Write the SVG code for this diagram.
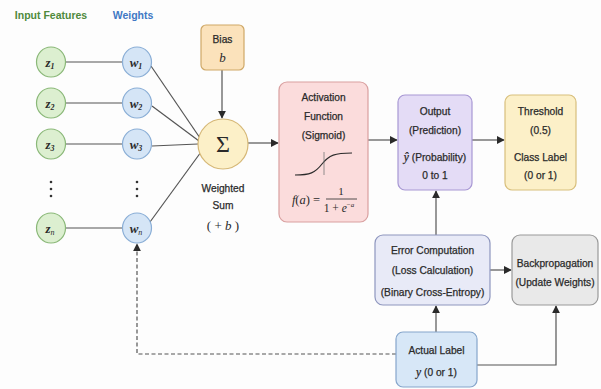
<svg xmlns="http://www.w3.org/2000/svg" width="601" height="389" viewBox="0 0 601 389">
<defs>
<style>
.t{font-family:"Liberation Sans",Arial,sans-serif;font-size:10.2px;fill:#2a2a2a;stroke:#2a2a2a;stroke-width:0.25;text-anchor:middle}
.h{font-family:"Liberation Sans",Arial,sans-serif;font-size:10.5px;font-weight:bold;text-anchor:middle}
.m{font-family:"Liberation Serif","Times New Roman",serif;font-style:italic;font-weight:bold;font-size:13px;fill:#2a2a2a;text-anchor:middle}
.s{font-family:"Liberation Serif","Times New Roman",serif;font-style:italic;fill:#2a2a2a}
.zc{fill:#dcefd0;stroke:#8ab878;stroke-width:1.2}
.wc{fill:#d5e5f6;stroke:#8aaed6;stroke-width:1.2}
.ln{stroke:#555;stroke-width:1.2;fill:none}
.dot{fill:#333}
</style>
<marker id="ah" viewBox="0 0 10 10" refX="9" refY="5" markerWidth="6.5" markerHeight="6.5" orient="auto-start-reverse">
<path d="M0,0 L10,5 L0,10 z" fill="#2a2a2a"/>
</marker>
</defs>
<rect width="601" height="389" fill="#fdfdfd"/>
<text class="h" x="51" y="19" fill="#4f8a3c">Input Features</text>
<text class="h" x="133" y="19" fill="#3f78c4">Weights</text>

<g id="connectors">
<line class="ln" x1="66" y1="62" x2="122" y2="62"/>
<line class="ln" x1="66" y1="103" x2="122" y2="103"/>
<line class="ln" x1="66" y1="144" x2="122" y2="144"/>
<line class="ln" x1="66" y1="228" x2="122" y2="228"/>
<line class="ln" x1="151" y1="66" x2="200" y2="138"/>
<line class="ln" x1="152" y1="106" x2="199" y2="141"/>
<line class="ln" x1="152" y1="146" x2="198" y2="144"/>
<line class="ln" x1="150" y1="222" x2="201" y2="152"/>
<line class="ln" x1="222" y1="70" x2="222" y2="118" marker-end="url(#ah)"/>
<line class="ln" x1="248" y1="143" x2="278" y2="143" marker-end="url(#ah)"/>
<line class="ln" x1="368" y1="140" x2="397" y2="140" marker-end="url(#ah)"/>
<line class="ln" x1="472" y1="140" x2="504" y2="140" marker-end="url(#ah)"/>
<line class="ln" x1="436" y1="235" x2="436" y2="191" marker-end="url(#ah)"/>
<line class="ln" x1="490" y1="270" x2="511" y2="270" marker-end="url(#ah)"/>
<line class="ln" x1="436" y1="332" x2="436" y2="306" marker-end="url(#ah)"/>
<polyline class="ln" points="477,365 556,365 556,306" marker-end="url(#ah)"/>
<polyline class="ln" points="396,354 137,354 137,244" stroke-dasharray="4,2.5" marker-end="url(#ah)"/>
</g>

<g id="z1"><ellipse class="zc" cx="51" cy="62" rx="14.5" ry="15"/><text class="m" x="50" y="67">z<tspan font-size="8" dy="2">1</tspan></text></g>
<g id="z2"><ellipse class="zc" cx="51" cy="103" rx="14.5" ry="15"/><text class="m" x="50" y="108">z<tspan font-size="8" dy="2">2</tspan></text></g>
<g id="z3"><ellipse class="zc" cx="51" cy="144" rx="14.5" ry="15"/><text class="m" x="50" y="149">z<tspan font-size="8" dy="2">3</tspan></text></g>
<g id="zdots"><circle class="dot" cx="51" cy="182" r="1.3"/><circle class="dot" cx="51" cy="189" r="1.3"/><circle class="dot" cx="51" cy="196" r="1.3"/></g>
<g id="zn"><ellipse class="zc" cx="51" cy="228" rx="14.5" ry="15"/><text class="m" x="50" y="233">z<tspan font-size="8" dy="2" font-weight="normal">n</tspan></text></g>

<g id="w1"><ellipse class="wc" cx="137" cy="62" rx="14.5" ry="15"/><text class="m" x="136" y="67">w<tspan font-size="8" dy="2">1</tspan></text></g>
<g id="w2"><ellipse class="wc" cx="137" cy="103" rx="14.5" ry="15"/><text class="m" x="136" y="108">w<tspan font-size="8" dy="2">2</tspan></text></g>
<g id="w3"><ellipse class="wc" cx="137" cy="144" rx="14.5" ry="15"/><text class="m" x="136" y="149">w<tspan font-size="8" dy="2">3</tspan></text></g>
<g id="wdots"><circle class="dot" cx="137" cy="182" r="1.3"/><circle class="dot" cx="137" cy="189" r="1.3"/><circle class="dot" cx="137" cy="196" r="1.3"/></g>
<g id="wn"><ellipse class="wc" cx="137" cy="228" rx="14.5" ry="15"/><text class="m" x="136" y="233">w<tspan font-size="8" dy="2" font-weight="normal">n</tspan></text></g>

<g id="bias">
<rect x="201" y="25" width="43" height="45" rx="5" fill="#fbe2bb" stroke="#cfa867" stroke-width="1.2"/>
<text class="t" x="222.5" y="43">Bias</text>
<text class="s" x="222.5" y="62" font-size="13" text-anchor="middle">b</text>
</g>

<g id="sum">
<circle cx="223" cy="144" r="25" fill="#fcf0c8" stroke="#d6b877" stroke-width="1.2"/>
<text x="223" y="152" font-family="Liberation Serif,serif" font-size="24" fill="#2a2a2a" text-anchor="middle">Σ</text>
<text class="t" x="223" y="192">Weighted</text>
<text class="t" x="223" y="209">Sum</text>
<text x="223" y="230" font-family="Liberation Serif,serif" font-size="13" fill="#2a2a2a" text-anchor="middle">( + <tspan font-style="italic">b</tspan> )</text>
</g>

<g id="activation">
<rect x="279" y="82" width="89" height="140" rx="8" fill="#fbdcdc" stroke="#d9a0a0" stroke-width="1.2"/>
<text class="t" x="323.5" y="101">Activation</text>
<text class="t" x="323.5" y="120">Function</text>
<text class="t" x="323.5" y="139">(Sigmoid)</text>
<path d="M295,175 C310,175 315,173 322,164 C329,155 335,153 352,153" fill="none" stroke="#2a2a2a" stroke-width="1.2"/>
<line x1="324" y1="152" x2="324" y2="175" stroke="#777" stroke-width="0.8"/>
<text class="s" x="306" y="204" font-size="12.5" text-anchor="middle">f<tspan font-style="normal">(</tspan>a<tspan font-style="normal">) =</tspan></text>
<text x="341" y="195" font-family="Liberation Serif,serif" font-size="11" fill="#2a2a2a" text-anchor="middle">1</text>
<line x1="326" y1="199" x2="357" y2="199" stroke="#2a2a2a" stroke-width="0.8"/>
<text x="339" y="212" font-family="Liberation Serif,serif" font-size="11.5" fill="#2a2a2a" text-anchor="middle">1 + <tspan font-style="italic">e</tspan><tspan font-size="7" dy="-5">−<tspan font-style="italic">a</tspan></tspan></text>
</g>

<g id="output">
<rect x="398" y="95" width="74" height="95" rx="7" fill="#e4dcf6" stroke="#a898d4" stroke-width="1.2"/>
<text class="t" x="435" y="115">Output</text>
<text class="t" x="435" y="134">(Prediction)</text>
<text class="t" x="435" y="161"><tspan font-family="Liberation Serif,serif" font-style="italic" font-size="11.5">ŷ</tspan> (Probability)</text>
<text class="t" x="435" y="179">0 to 1</text>
</g>

<g id="threshold">
<rect x="505" y="95" width="71" height="95" rx="7" fill="#fcf0c8" stroke="#d8bf7c" stroke-width="1.2"/>
<text class="t" x="540.5" y="115">Threshold</text>
<text class="t" x="540.5" y="134">(0.5)</text>
<text class="t" x="540.5" y="161">Class Label</text>
<text class="t" x="540.5" y="179">(0 or 1)</text>
</g>

<g id="error">
<rect x="375" y="235" width="115" height="70" rx="8" fill="#e8eaf7" stroke="#8e96be" stroke-width="1.2"/>
<text class="t" x="432.5" y="254">Error Computation</text>
<text class="t" x="432.5" y="274">(Loss Calculation)</text>
<text class="t" x="432.5" y="296">(Binary Cross-Entropy)</text>
</g>

<g id="backprop">
<rect x="512" y="235" width="86" height="70" rx="8" fill="#e9e9e9" stroke="#9a9a9a" stroke-width="1.2"/>
<text class="t" x="555" y="267">Backpropagation</text>
<text class="t" x="555" y="286">(Update Weights)</text>
</g>

<g id="actual">
<rect x="396" y="332" width="81" height="55" rx="7" fill="#d7e7f7" stroke="#86a6cc" stroke-width="1.2"/>
<text class="t" x="436.5" y="354">Actual Label</text>
<text class="t" x="436.5" y="376"><tspan font-family="Liberation Serif,serif" font-style="italic" font-size="11.5">y</tspan> (0 or 1)</text>
</g>
</svg>
